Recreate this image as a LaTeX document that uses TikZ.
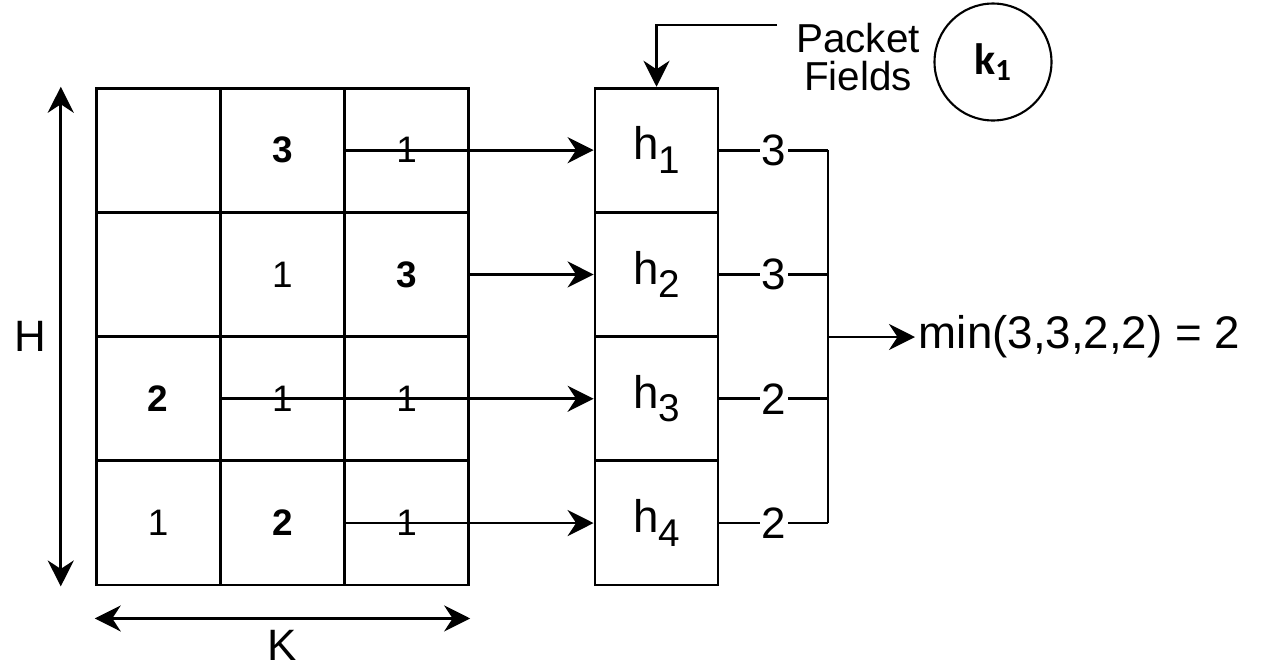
\documentclass[tikz,border=0pt]{standalone}
\usepackage{fontspec}
\setmainfont{Liberation Sans}
\newfontfamily\keyfont{Carlito}
\usetikzlibrary{arrows.meta, positioning, calc}
\tikzset{
  % sketch cell
  cell/.style={
    rectangle, draw, line width=1.6pt,
    minimum width=2.48cm, minimum height=2.48cm,
    inner sep=0pt, font=\fontsize{21}{21}\selectfont
  },
  % hash box
  hbox/.style={cell, minimum width=2.46cm, font=\fontsize{26}{26}\selectfont},
  % Arrows
  arr/.style={-{Stealth[length=0.52cm,width=0.52cm,inset=0.17cm]}, line width=1.6pt},
  dimarr/.style={{Stealth[length=0.52cm,width=0.52cm,inset=0.17cm]}-{Stealth[length=0.52cm,width=0.52cm,inset=0.17cm]}, line width=1.6pt},
  % Edge label
  elabel/.style={fill=white, inner sep=1pt, font=\fontsize{25}{25}\selectfont},
}
\newcommand{\hsub}[1]{h\raisebox{-0.3em}{\fontsize{22}{22}\selectfont #1}}

\begin{document}
\begin{tikzpicture}[x=0.02cm, y=-0.02cm]
  \useasboundingbox (0,0) rectangle (1262,667);

  %% Sketch cells (row/col/value)
  \foreach \r/\c/\t in {
    1/1/{}, 1/2/\textbf{3}, 1/3/1,
    2/1/{}, 2/2/1, 2/3/\textbf{3},
    3/1/\textbf{2}, 3/2/1, 3/3/1,
    4/1/1, 4/2/\textbf{2}, 4/3/1}{
    \node[cell] (c\r\c) at ({96+124.3*(\c-0.5)}, {88+124.3*(\r-0.5)}) {\t};
  }

  %% Hash functions
  \foreach \r in {1,...,4}{
    \node[hbox] (h\r) at (656.5, {88+124.3*(\r-0.5)}) {\hsub{\r}};
  }

  %% Counters to hashes
  \draw[arr] (c13.west) -- (h1.west);
  \draw[arr] (c23.east) -- (h2.west);
  \draw[arr] (c31.east) -- (h3.west);
  \draw[arr] (c42.east) -- (h4.west);

  %% Minimum
  \coordinate (bus) at (828,337);
  \foreach \r/\v in {1/3, 2/3, 3/2, 4/2}{
    \draw[line width=1.6pt] (h\r.east) -- node[elabel]{\v} (h\r.east -| bus);
  }
  \draw[line width=1.6pt] (h1.east -| bus) -- (h4.east -| bus);
  \node[anchor=west, inner sep=2pt, font=\fontsize{26}{26}\selectfont] (res) at (915,337) {min(3,3,2,2) = 2};
  \draw[arr] (bus) -- (res.west);

  %% Packet input
  \node[align=center, font=\fontsize{23}{21.5}\selectfont] (pf) at (858,57) {Packet\\Fields};
  \coordinate (pfin) at (777,25);
  \draw[arr] (pfin) -| (h1.north);
  \node[circle, draw, line width=1.2pt, minimum size=2.34cm,
        font=\keyfont\bfseries\fontsize{25}{25}\selectfont] (key) at (993,62) {k\textsubscript{1}};

  %% Dimensions
  \draw[dimarr] ([xshift=-0.68cm]c11.north west) -- node[left=0.26cm, inner sep=0pt, font=\fontsize{25}{25}\selectfont] (hlbl) {H} ([xshift=-0.68cm]c41.south west);
  \draw[dimarr] ([yshift=-0.64cm]c41.south west) -- node[below=0.2cm, inner sep=0pt, font=\fontsize{25}{25}\selectfont] (klbl) {K} ([yshift=-0.64cm]c43.south east);
\end{tikzpicture}
\end{document}
